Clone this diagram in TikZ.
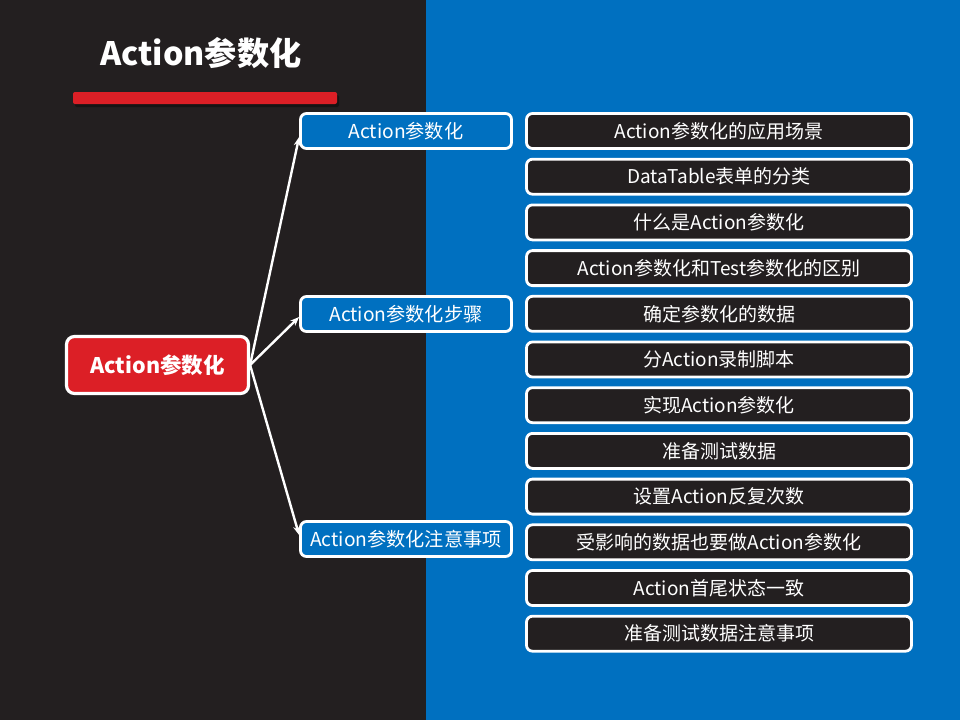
\documentclass[tikz,border=0pt]{standalone}
\usepackage{fontspec}
\setmainfont{Noto Sans CJK SC}
\usetikzlibrary{arrows.meta}
\definecolor{darkbg}{HTML}{231F20}
\definecolor{bluebg}{HTML}{0070C0}
\definecolor{redc}{HTML}{DC1F26}
\begin{document}
\begin{tikzpicture}[x=1pt,y=-1pt,
  base/.style={draw=white, line width=2.8pt, rounded corners=6pt, text=white, inner sep=0pt, align=center},
  rootbox/.style={base, fill=redc, minimum width=182pt, minimum height=57pt, font=\fontsize{21.5}{24}\selectfont\bfseries, line width=3.2pt, rounded corners=8pt},
  midbox/.style={base, fill=bluebg, minimum width=211pt, minimum height=35pt, font=\fontsize{19.2}{21}\selectfont},
  leafbox/.style={base, fill=darkbg, minimum width=385pt, minimum height=35pt, font=\fontsize{19}{21}\selectfont},
  conn/.style={draw=white, line width=2.4pt, -{Stealth[length=9pt,width=7pt]}}
]
\useasboundingbox (0,0) rectangle (960,720);
\fill[darkbg] (0,0) rectangle (426,720);
\fill[bluebg] (426,0) rectangle (960,720);
% title
\node[text=white, font=\fontsize{32.2}{35}\selectfont\bfseries, anchor=center] (title) at (201,53) {Action参数化};
\fill[black, opacity=0.35, rounded corners=2pt] (75,95) rectangle (339,107);
\fill[redc, rounded corners=2pt] (73,92) rectangle (337,104);
% root
\node[rootbox] (root) at (157.5,365) {Action参数化};
% middle
\node[midbox] (m1) at (406,131) {Action参数化};
\node[midbox] (m2) at (406,314) {Action参数化步骤};
\node[midbox] (m3) at (406,539) {Action参数化注意事项};
% leaves
\foreach \i/\t in {0/Action参数化的应用场景, 1/DataTable表单的分类, 2/什么是Action参数化, 3/Action参数化和Test参数化的区别, 4/确定参数化的数据, 5/分Action录制脚本, 6/实现Action参数化, 7/准备测试数据, 8/设置Action反复次数, 9/受影响的数据也要做Action参数化, 10/Action首尾状态一致, 11/准备测试数据注意事项}{
  \node[leafbox] (l\i) at (719, 131+\i*45.7) {\t};
}
% connectors
\draw[conn] (root.east) -- ([yshift=-6pt]m1.west);
\draw[conn] (root.east) -- ([yshift=-3pt]m2.west);
\draw[conn] (root.east) -- ([yshift=4pt]m3.west);
\end{tikzpicture}
\end{document}
